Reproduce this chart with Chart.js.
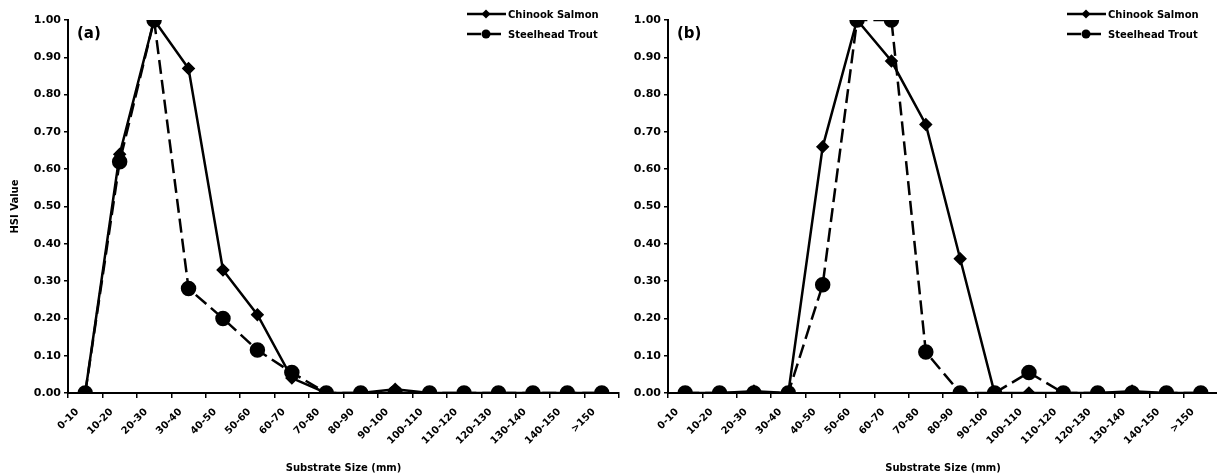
<!DOCTYPE html>
<html>
<head>
<meta charset="utf-8">
<script src="https://cdn.jsdelivr.net/npm/chart.js@4"></script>
<style>
html,body{margin:0;padding:0;background:#fff;}
#wrap{position:relative;width:1217px;height:476px;overflow:hidden;}
#cA{position:absolute;left:0;top:0;}
#cB{position:absolute;left:600px;top:0;}
</style>
</head>
<body>
<div id="wrap">
<canvas id="cA" width="628" height="476"></canvas>
<canvas id="cB" width="627" height="476"></canvas>
</div>
<script>
const sizes=['0-10','10-20','20-30','30-40','40-50','50-60','60-70','70-80','80-90','90-100','100-110','110-120','120-130','130-140','140-150','>150'];
const yTicks=[0,0.1,0.2,0.3,0.4,0.5,0.6,0.7,0.8,0.9,1.0];
const chinookA=[0,0.64,1.00,0.87,0.33,0.21,0.04,0,0,0.01,0,0,0,0,0,0];
const steelheadA=[0,0.62,1.00,0.28,0.20,0.115,0.055,0,0,0,0,0,0,0,0,0];
const chinookB=[0,0,0.005,0,0.66,1.00,0.89,0.72,0.36,0,0,0,0,0.005,0,0];
const steelheadB=[0,0,0,0,0.29,1.00,1.00,0.11,0,0,0.055,0,0,0,0,0];
const names=['Chinook Salmon','Steelhead Trout'];

Chart.defaults.font.family="'DejaVu Sans', 'Liberation Sans', sans-serif";
Chart.defaults.font.weight='bold';
Chart.defaults.color='#000';
Chart.defaults.animation=false;

const DASH=[14,6];

// legend + panel letter drawn on the canvas like the excel original
const decor={
  id:'decor',
  afterDraw(chart,args,opts){
    const ctx=chart.ctx;
    ctx.save();
    ctx.fillStyle='#000';ctx.strokeStyle='#000';
    ctx.font="bold 15px 'DejaVu Sans'";
    ctx.textBaseline='middle';ctx.textAlign='left';
    ctx.fillText(opts.letter,77,34);
    const rows=[{y:14,dash:[],pt:'diamond'},{y:34,dash:DASH,pt:'circle'}];
    ctx.font="bold 10px 'DejaVu Sans'";
    rows.forEach((r,i)=>{
      ctx.lineWidth=2.5;ctx.setLineDash(r.dash);
      ctx.beginPath();ctx.moveTo(467,r.y);ctx.lineTo(506,r.y);ctx.stroke();
      ctx.setLineDash([]);
      ctx.beginPath();
      if(r.pt==='diamond'){ctx.moveTo(486,r.y-4.5);ctx.lineTo(490.5,r.y);ctx.lineTo(486,r.y+4.5);ctx.lineTo(481.5,r.y);ctx.closePath();}
      else ctx.arc(486,r.y,4.5,0,Math.PI*2);
      ctx.fill();
      ctx.fillText(names[i],508,r.y+1);
    });
    ctx.restore();
  }
};

function makeChart(id,chinook,steelhead,letter,showTitle){
  return new Chart(document.getElementById(id),{
    type:'line',
    data:{labels:sizes,datasets:[
      {label:names[1],data:steelhead,borderColor:'#000',backgroundColor:'#000',borderWidth:2.5,borderDash:DASH,
       pointStyle:'circle',pointRadius:6.5,pointHoverRadius:6.5,tension:0,order:0},
      {label:names[0],data:chinook,borderColor:'#000',backgroundColor:'#000',borderWidth:2.5,
       pointStyle:'rectRot',pointRadius:5,pointHoverRadius:5,tension:0,order:1}
    ]},
    options:{
      responsive:false,
      layout:{padding:{top:20,right:0,left:0,bottom:0}},
      plugins:{legend:{display:false},tooltip:{enabled:false},decor:{letter:letter}},
      scales:{
        x:{offset:true,
           grid:{offset:true,drawOnChartArea:false,tickLength:5,color:'#000',lineWidth:1.5},
           border:{color:'#000',width:2},
           ticks:{minRotation:45,maxRotation:45,autoSkip:false,padding:8,labelOffset:-8,font:{size:10}},
           title:{display:true,text:'Substrate Size (mm)',font:{size:10,weight:'bold'},padding:{top:0,bottom:2}},
           afterFit(s){s.height=83;}},
        y:{min:0,max:1,
           afterBuildTicks(s){s.ticks=yTicks.map(v=>({value:v}));},
           grid:{drawOnChartArea:false,tickLength:4,color:'#000',lineWidth:1.5},
           border:{color:'#000',width:2},
           ticks:{padding:3,font:{size:11},callback:v=>v.toFixed(2)},
           title:{display:showTitle,text:'HSI Value',font:{size:10,weight:'bold'},padding:{top:9,bottom:0}},
           afterFit(s){s.width=68;}}
      }
    },
    plugins:[decor]
  });
}

makeChart('cA',chinookA,steelheadA,'(a)',true);
makeChart('cB',chinookB,steelheadB,'(b)',false);
</script>
</body>
</html>
